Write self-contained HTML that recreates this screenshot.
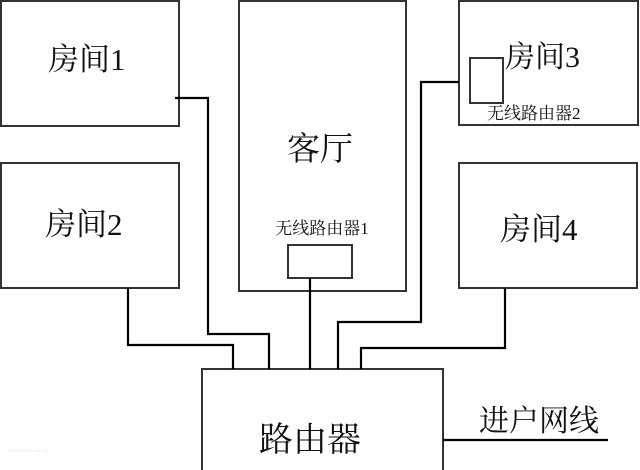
<!DOCTYPE html>
<html><head><meta charset="utf-8"><style>
html,body{margin:0;padding:0;background:#fff;width:640px;height:470px;overflow:hidden}
svg{display:block}
text{font-family:"Liberation Serif","Noto Serif CJK SC",serif;fill:#111}
</style></head><body>
<svg width="640" height="470" viewBox="0 0 640 470" xmlns="http://www.w3.org/2000/svg">
<rect width="640" height="470" fill="#fff"/>
<g fill="none" stroke="#333" stroke-width="2">
<rect x="1" y="1" width="178" height="125"/>
<rect x="1" y="163" width="178" height="125"/>
<rect x="239" y="1" width="167" height="290"/>
<rect x="288" y="245" width="64" height="33"/>
<rect x="459" y="1" width="179" height="124"/>
<rect x="470" y="58" width="33" height="45"/>
<rect x="459" y="163" width="178" height="125"/>
<rect x="202" y="369" width="241" height="105"/>
</g>
<g fill="none" stroke="#000" stroke-width="2.2">
<polyline points="175,98 208,98 208,334 269,334 269,369"/>
<polyline points="128,288 128,345 233,345 233,369"/>
<polyline points="310,278 310,369"/>
<polyline points="459,82 421,82 421,322 338,322 338,369"/>
<polyline points="505,288 505,348 361,348 361,369"/>
<polyline points="443,440 608,440"/>
</g>
<text x="48" y="70" font-size="31">房间1</text>
<text x="45" y="235" font-size="31">房间2</text>
<text x="287" y="160" font-size="33">客厅</text>
<text x="322" y="234" font-size="17" text-anchor="middle">无线路由器1</text>
<text x="505" y="67" font-size="30">房间3</text>
<text x="487" y="119" font-size="17">无线路由器2</text>
<text x="500" y="240" font-size="31">房间4</text>
<text x="259" y="451" font-size="34">路由器</text>
<text x="479" y="431" font-size="30">进户网线</text>
<text x="9" y="454" font-size="8" fill="#ccc" style="fill:#ccc">················</text>
</svg>
</body></html>
